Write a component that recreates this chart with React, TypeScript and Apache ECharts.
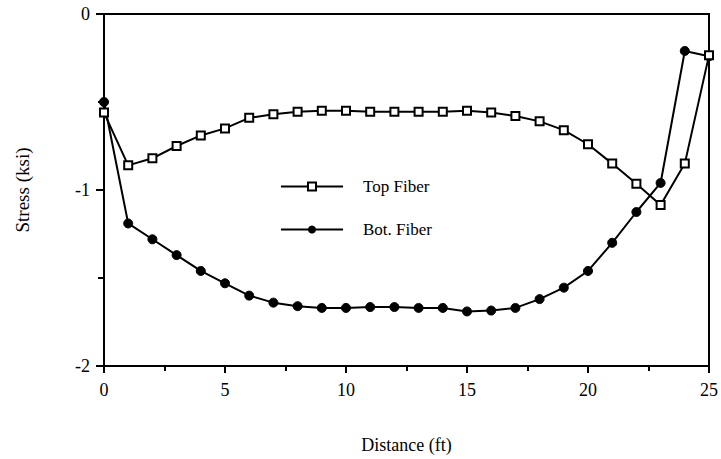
import React, { useEffect, useRef } from "react";
import * as echarts from "echarts";

const distance = [0, 1, 2, 3, 4, 5, 6, 7, 8, 9, 10, 11, 12, 13, 14, 15, 16, 17, 18, 19, 20, 21, 22, 23, 24, 25];
const topFiber = [-0.56, -0.86, -0.82, -0.75, -0.69, -0.65, -0.59, -0.57, -0.555, -0.55, -0.55, -0.555, -0.555, -0.555, -0.555, -0.55, -0.56, -0.58, -0.61, -0.66, -0.74, -0.85, -0.965, -1.085, -0.85, -0.235];
const botFiber = [-0.5, -1.19, -1.28, -1.37, -1.46, -1.53, -1.6, -1.64, -1.66, -1.67, -1.67, -1.665, -1.665, -1.67, -1.67, -1.69, -1.685, -1.67, -1.62, -1.555, -1.46, -1.3, -1.125, -0.96, -0.21, -0.24];

const FONT = "Liberation Serif";

export default function App() {
  const ref = useRef<HTMLDivElement>(null);
  useEffect(() => {
    if (!ref.current) return;
    const chart = echarts.init(ref.current, undefined, { renderer: "svg" });
    const axisLine = { show: true, onZero: false, lineStyle: { color: "#000", width: 2 } };
    chart.setOption({
      animation: false,
      backgroundColor: "#fff",
      grid: { left: 104, right: 9, top: 14, bottom: 93, show: true, borderColor: "#000", borderWidth: 2, backgroundColor: "transparent" },
      legend: {
        orient: "vertical",
        left: 275,
        top: 173,
        itemWidth: 62,
        itemHeight: 10,
        itemGap: 26,
        textStyle: { fontFamily: FONT, fontSize: 17, color: "#000", padding: [0, 0, 0, 15] },
        data: ["Top Fiber", "Bot. Fiber"],
      },
      xAxis: {
        type: "value",
        min: 0,
        max: 25,
        interval: 5,
        name: "Distance (ft)",
        nameLocation: "middle",
        nameGap: 70,
        nameTextStyle: { fontFamily: FONT, fontSize: 18, color: "#000" },
        axisLine,
        axisTick: { show: true, inside: false, length: 7, lineStyle: { color: "#000", width: 2 } },
        minorTick: { show: true, splitNumber: 2, length: 5, lineStyle: { color: "#000", width: 2 } },
        splitLine: { show: false },
        axisLabel: { fontFamily: FONT, fontSize: 18, color: "#000", margin: 15 },
      },
      yAxis: {
        type: "value",
        min: -2,
        max: 0,
        interval: 1,
        name: "Stress (ksi)",
        nameLocation: "middle",
        nameGap: 72,
        nameRotate: 90,
        nameTextStyle: { fontFamily: FONT, fontSize: 19, color: "#000" },
        axisLine,
        axisTick: { show: true, inside: false, length: 8, lineStyle: { color: "#000", width: 2 } },
        minorTick: { show: true, splitNumber: 2, length: 6, lineStyle: { color: "#000", width: 2 } },
        splitLine: { show: false },
        axisLabel: { fontFamily: FONT, fontSize: 18, color: "#000", margin: 14 },
      },
      series: [
        {
          name: "Top Fiber",
          type: "line",
          data: distance.map((d, i) => [d, topFiber[i]]),
          symbol: "rect",
          symbolSize: 8,
          showAllSymbol: true,
          lineStyle: { color: "#000", width: 2 },
          itemStyle: { color: "#fff", borderColor: "#000", borderWidth: 2 },
          z: 3,
        },
        {
          name: "Bot. Fiber",
          type: "line",
          data: distance.map((d, i) => [d, botFiber[i]]),
          symbol: "circle",
          symbolSize: 9,
          showAllSymbol: true,
          lineStyle: { color: "#000", width: 2 },
          itemStyle: { color: "#000", borderColor: "#000" },
          z: 2,
        },
      ],
    });
    return () => chart.dispose();
  }, []);
  return <div ref={ref} style={{ width: 721, height: 459, position: "absolute", left: 0, top: 0 }} />;
}
